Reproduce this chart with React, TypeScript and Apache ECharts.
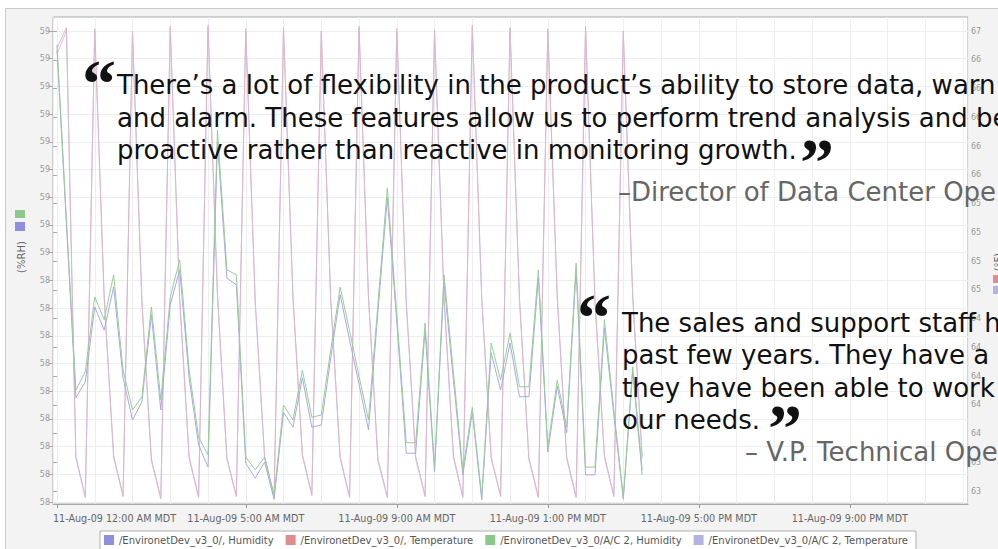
import React, { useEffect, useRef } from "react";
import * as echarts from "echarts";

// samples every 15 minutes starting 11-Aug-09 12:00 AM (hours)
const sampleStepHours = 0.25;

// (%RH) left axis
const humidity = [
  58.866, 58.55, 58.238, 58.267, 58.402, 58.36, 58.438, 58.274, 58.198, 58.231,
  58.388, 58.216, 58.406, 58.469, 58.274, 58.153, 58.113, 58.7, 58.454, 58.442,
  58.12, 58.093, 58.122, 58.055, 58.212, 58.185, 58.274, 58.185, 58.189, 58.31,
  58.424, 58.342, 58.263, 58.18, 58.393, 58.599, 58.375, 58.138, 58.138, 58.36,
  58.104, 58.447, 58.27, 58.099, 58.212, 58.054, 58.319, 58.252, 58.337, 58.24,
  58.24, 58.454, 58.14, 58.259, 58.175, 58.469, 58.099, 58.099, 58.364, 58.207,
  58.055, 58.285, 58.099,
];
const acHumidity = [
  58.875, 58.559, 58.252, 58.285, 58.42, 58.379, 58.46, 58.288, 58.216, 58.24,
  58.402, 58.234, 58.42, 58.487, 58.288, 58.167, 58.135, 58.721, 58.469, 58.46,
  58.131, 58.108, 58.131, 58.063, 58.225, 58.198, 58.288, 58.203, 58.207, 58.324,
  58.438, 58.359, 58.277, 58.198, 58.407, 58.617, 58.388, 58.157, 58.157, 58.373,
  58.113, 58.46, 58.285, 58.108, 58.221, 58.059, 58.337, 58.27, 58.355, 58.258,
  58.258, 58.469, 58.149, 58.27, 58.185, 58.481, 58.113, 58.113, 58.379, 58.216,
  58.059, 58.294, 58.108,
];
// right axis temperature
const temperature = [
  66.85, 67.03, 63.3, 62.95, 67.02, 64.7, 63.31, 62.96, 67.0, 64.65,
  63.28, 62.94, 67.04, 64.68, 63.3, 62.95, 67.05, 64.72, 63.29, 62.96,
  67.02, 64.66, 63.3, 62.95, 67.03, 64.7, 63.32, 62.97, 67.0, 64.68,
  63.3, 62.95, 67.04, 64.7, 63.28, 62.95, 67.02, 64.66, 63.3, 62.96,
  67.01, 64.7, 63.31, 62.95, 67.05, 64.69, 63.3, 62.96, 67.03, 64.68,
  63.29, 62.95, 67.02, 64.7, 63.3, 62.95, 67.04, 64.66, 63.31, 62.96,
  67.0, 64.7, 63.3,
];
const acTemperature = [
  66.8, 67.0, 63.28, 62.94, 67.0, 64.66, 63.29, 62.95, 66.98, 64.62,
  63.26, 62.93, 67.02, 64.65, 63.28, 62.94, 67.03, 64.69, 63.27, 62.95,
  67.0, 64.63, 63.28, 62.94, 67.01, 64.67, 63.3, 62.96, 66.98, 64.65,
  63.28, 62.94, 67.02, 64.67, 63.26, 62.94, 67.0, 64.63, 63.28, 62.95,
  66.99, 64.67, 63.29, 62.94, 67.03, 64.66, 63.28, 62.95, 67.01, 64.65,
  63.27, 62.94, 67.0, 64.67, 63.28, 62.94, 67.02, 64.63, 63.29, 62.95,
  66.98, 64.67, 63.28,
];

const xLabelHours = [0, 5, 9, 13, 17, 21];
const xLabels = [
  "11-Aug-09 12:00 AM MDT",
  "11-Aug-09 5:00 AM MDT",
  "11-Aug-09 9:00 AM MDT",
  "11-Aug-09 1:00 PM MDT",
  "11-Aug-09 5:00 PM MDT",
  "11-Aug-09 9:00 PM MDT",
];
const leftTickLabels = [
  "58", "58", "58", "58", "58", "58", "58", "58", "58",
  "59", "59", "59", "59", "59", "59", "59", "59", "59",
];
const rightTickLabels = [
  "63", "63", "64", "64", "64", "64", "64", "65", "65",
  "65", "65", "66", "66", "66", "66", "66", "67",
];
const seriesNames = [
  "/EnvironetDev_v3_0/, Humidity",
  "/EnvironetDev_v3_0/, Temperature",
  "/EnvironetDev_v3_0/A/C 2, Humidity",
  "/EnvironetDev_v3_0/A/C 2, Temperature",
];
const swatchColors = ["#8f8fe0", "#e08c8c", "#8cc88c", "#b4b4e2"];
const lineColors = ["#a8a8e6", "#ddb6c8", "#98cc98", "#d0c6e6"];

const quote1Lines = [
  "There\u2019s a lot of flexibility in the product\u2019s ability to store data, warn",
  "and alarm. These features allow us to perform trend analysis and be",
  "proactive rather than reactive in monitoring growth.",
];
const quote1Author = "\u2013Director of Data Center Operations";
const quote2Lines = [
  "The sales and support staff have",
  "past few years. They have a good",
  "they have been able to work with",
  "our needs.",
];
const quote2Author = "\u2013 V.P. Technical Operations";

const FONT = '"DejaVu Sans", Verdana, sans-serif';

export default function App() {
  const ref = useRef<HTMLDivElement>(null);
  useEffect(() => {
    if (!ref.current) return;
    const chart = echarts.init(ref.current, null, { renderer: "svg" });
    const toPairs = (arr: number[]) => arr.map((v, i) => [i * sampleStepHours, v]);
    const seriesData = [humidity, temperature, acHumidity, acTemperature];
    const yIdx = [0, 1, 0, 1];
    const zs = [5, 4, 6, 3];

    const quoteText = (text: string, x: number, y: number, color = "#111") => ({
      type: "text",
      z: 20,
      x,
      y,
      style: { text, fill: color, font: `26px ${FONT}`, textVerticalAlign: "middle", textAlign: "left" },
    });
    const mark = (text: string, x: number, y: number) => ({
      type: "text",
      z: 20,
      x,
      y,
      style: { text, fill: "#111", font: `bold 68px "Liberation Serif", "Times New Roman", serif`, textVerticalAlign: "top", textAlign: "left" },
    });

    const graphic: any[] = [
      { type: "rect", z: -1, shape: { x: 0, y: 0, width: 998, height: 8 }, style: { fill: "#fff" } },
      { type: "rect", z: -1, shape: { x: 0, y: 0, width: 5, height: 549 }, style: { fill: "#fff" } },
      { type: "line", z: -1, shape: { x1: 5.5, y1: 8.5, x2: 998, y2: 8.5 }, style: { stroke: "#c8c8c8", lineWidth: 1 } },
      { type: "line", z: -1, shape: { x1: 5.5, y1: 8.5, x2: 5.5, y2: 549 }, style: { stroke: "#c8c8c8", lineWidth: 1 } },
      { type: "rect", shape: { x: 15, y: 210, width: 10, height: 8 }, style: { fill: swatchColors[2] } },
      { type: "rect", shape: { x: 15, y: 222, width: 10, height: 9 }, style: { fill: swatchColors[0] } },
      { type: "rect", shape: { x: 993, y: 275, width: 10, height: 8 }, style: { fill: swatchColors[1] } },
      { type: "rect", shape: { x: 993, y: 286, width: 10, height: 8 }, style: { fill: swatchColors[3] } },
      {
        type: "text", x: 21, y: 257, rotation: Math.PI / 2,
        style: { text: "(%RH)", fill: "#666", font: `10px ${FONT}`, textAlign: "center", textVerticalAlign: "middle" },
      },
      {
        type: "text", x: 998, y: 262, rotation: Math.PI / 2,
        style: { text: "(\u00b0F)", fill: "#666", font: `10px ${FONT}`, textAlign: "center", textVerticalAlign: "middle" },
      },
      mark("\u201c", 82, 50),
      ...quote1Lines.map((t, i) => quoteText(t, 117, 85 + i * 32.5)),
      mark("\u201d", 800, 128),
      quoteText(quote1Author, 618, 192, "#666"),
      mark("\u201c", 577, 284),
      ...quote2Lines.map((t, i) => quoteText(t, 622, 323 + i * 32.3)),
      mark("\u201d", 768, 394),
      quoteText(quote2Author, 745, 452, "#666"),
    ];

    const option: any = {
      animation: false,
      backgroundColor: "#f3f3f3",
      textStyle: { fontFamily: FONT },
      grid: [
        { left: 53, top: 17, width: 915, height: 487, show: true, backgroundColor: "#fff", borderColor: "#a8a8a8", borderWidth: 1 },
        { left: 53, top: 31, width: 915, height: 471, show: false },
        { left: 53, top: 31, width: 915, height: 460, show: false },
      ],
      xAxis: [
        {
          type: "value", gridIndex: 0, min: -0.106, max: 24.13,
          axisLine: { show: true, lineStyle: { color: "#a8a8a8" } },
          axisTick: { show: true, customValues: xLabelHours, length: 4, lineStyle: { color: "#999" } },
          axisLabel: {
            show: true, customValues: xLabelHours, color: "#666", fontSize: 9.6, margin: 9, fontFamily: FONT,
            formatter: (v: number) => {
              const i = xLabelHours.indexOf(Math.round(v));
              if (i === 0) return `{first|${xLabels[0]}}`;
              return i >= 0 ? xLabels[i] : "";
            },
            rich: { first: { padding: [0, 0, 0, 115], fontSize: 9.6, color: "#666", fontFamily: FONT } },
          },
          splitLine: { show: false },
        },
        {
          type: "value", gridIndex: 0, min: -0.106, max: 24.13, splitNumber: 24, minInterval: 1, maxInterval: 1,
          axisLine: { show: false }, axisTick: { show: false }, axisLabel: { show: false },
          splitLine: { show: true, lineStyle: { color: "#eeeeee", width: 1 } },
        },
        { type: "value", gridIndex: 1, min: 0, max: 1, show: false },
        { type: "value", gridIndex: 2, min: 0, max: 1, show: false },
      ],
      yAxis: [
        { type: "value", gridIndex: 0, min: 58.0464, max: 58.9253, show: false, splitLine: { show: false } },
        { type: "value", gridIndex: 0, position: "right", min: 62.887, max: 67.1217, show: false, splitLine: { show: false } },
        {
          type: "value", gridIndex: 1, position: "left", min: 58.05, max: 58.9, interval: 0.05,
          axisLine: { show: false },
          axisTick: { show: true, length: 4, lineStyle: { color: "#aaa" } },
          axisLabel: {
            color: "#999", fontSize: 8, margin: 3, fontFamily: FONT,
            formatter: (v: number) => leftTickLabels[Math.round((v - 58.05) / 0.05)] ?? "",
          },
          splitLine: { show: true, lineStyle: { color: "#eeeeee", width: 1 } },
        },
        {
          type: "value", gridIndex: 2, position: "right", min: 63, max: 67, interval: 0.25,
          axisLine: { show: false },
          axisTick: { show: true, length: 4, lineStyle: { color: "#aaa" } },
          axisLabel: {
            color: "#999", fontSize: 8, margin: 3, fontFamily: FONT,
            formatter: (v: number) => rightTickLabels[Math.round((v - 63) / 0.25)] ?? "",
          },
          splitLine: { show: false },
        },
      ],
      legend: {
        left: 100, top: 531, icon: "rect", itemWidth: 10, itemHeight: 10, itemGap: 12,
        backgroundColor: "#fff", borderColor: "#b0b0b0", borderWidth: 1, borderRadius: 0,
        padding: [4, 8, 10, 4],
        textStyle: { fontSize: 10, color: "#555", fontFamily: FONT },
        data: seriesNames,
      },
      series: seriesNames.map((name, s) => ({
        name,
        type: "line",
        xAxisIndex: 0,
        yAxisIndex: yIdx[s],
        data: toPairs(seriesData[s]),
        showSymbol: false,
        symbol: "none",
        itemStyle: { color: swatchColors[s] },
        lineStyle: { color: lineColors[s], width: 1 },
        z: zs[s],
      })),
      graphic,
    };
    chart.setOption(option);
    return () => chart.dispose();
  }, []);
  return <div ref={ref} style={{ position: "absolute", left: 0, top: 0, width: 998, height: 549 }} />;
}
